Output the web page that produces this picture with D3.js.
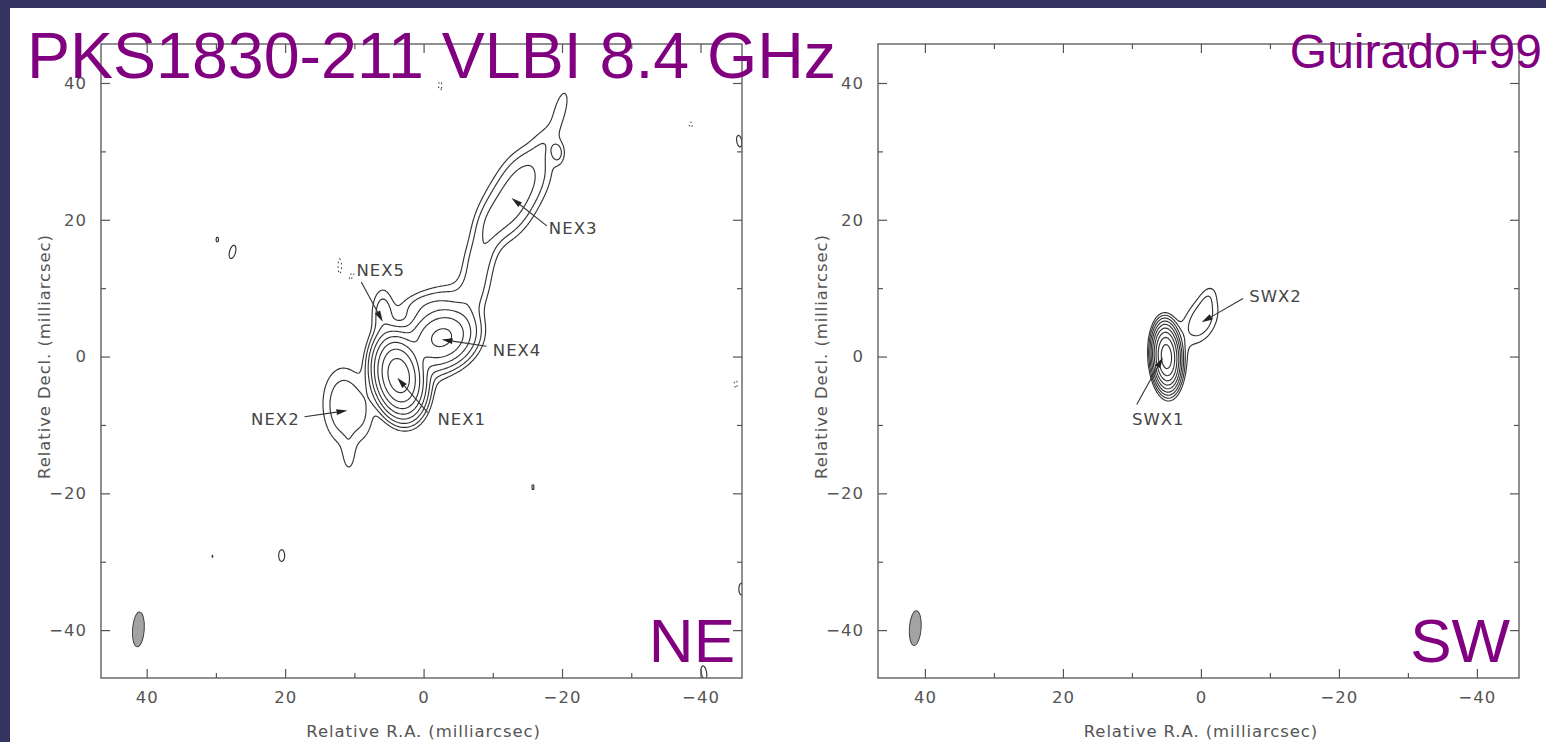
<!DOCTYPE html>
<html>
<head>
<meta charset="utf-8">
<script src="https://cdn.jsdelivr.net/npm/d3@7"></script>
<style>
  html, body { margin: 0; padding: 0; background: #ffffff; }
  svg { display: block; }
</style>
</head>
<body>
<svg id="chart" width="1546" height="742"></svg>
<script>
// Contour levels, in multiples of the lowest contour
const contourLevels = [1, 2, 4, 8, 16, 32, 64, 128, 256];
const negativeLevels = [1];

// Axis ticks (milliarcsec)
const majorTicks = [-40, -20, 0, 20, 40];
const minorTicks = [-30, -10, 10, 30];

// Brightness components of the NE image:
// [RA offset (mas), Dec offset (mas), peak (lowest contours), sigma major, sigma minor, PA (deg)]
const neComponents = [
  [3.6, -2.8, 210, 2.5, 1.5, 10],     // NEX1
  [-2.7, 2.8, 36, 2.4, 2.0, -60],     // NEX4
  [0.5, 0.5, 4, 4.0, 2.5, -40],       // diffuse emission between NEX1 and NEX4
  [-2.5, 8.0, 2.0, 3.0, 1.6, -70],    // diffuse emission north of NEX4
  [0.8, 7.5, 1.3, 2.2, 1.2, -75],     // diffuse emission east of the jet base
  [5.9, 6.3, 3.0, 2.3, 1.0, 0],       // NEX5
  [11.4, -7.3, 3.6, 3.5, 1.95, 3],    // NEX2
  [8.6, -8.5, 0.9, 2.5, 1.1, 0],      // emission joining NEX2 and NEX1
  [10.8, -14.5, 1.2, 2.0, 0.7, 0],    // NEX2 southern tail
  [-7.4, 10.0, 2.6, 3.5, 1.35, -15],  // jet bridge
  [-8.3, 15.5, 2.6, 3.0, 1.35, -20],  // jet bridge
  [-9.7, 19.5, 1.6, 2.0, 1.3, -25],   // jet bridge
  [-12.0, 21.5, 5.0, 3.0, 2.0, -30],  // NEX3
  [-14.5, 26.0, 4.5, 3.0, 2.0, -30],  // NEX3
  [-17.5, 31.5, 1.3, 2.2, 1.2, -30],  // outer jet
  [-19.4, 29.8, 2.3, 1.1, 0.65, 0],   // outer jet knot
  [-19.8, 36.3, 1.5, 2.5, 0.8, -15],  // jet tip
  [29.8, 17.1, 1.12, 0.8, 0.4, 0],
  [27.6, 15.3, 1.3, 1.4, 0.6, -15],
  [30.5, -29.2, 1.05, 0.6, 0.3, 0],
  [20.5, -29.1, 1.3, 1.2, 0.6, 0],
  [-15.8, -19.1, 1.1, 1.0, 0.35, 0],
  [-45.6, 31.5, 1.3, 1.2, 0.5, 10],
  [-45.9, -34.0, 1.3, 1.2, 0.5, 0],
  [-40.5, -46.2, 1.35, 1.3, 0.5, 10],
  [-2.4, 39.6, -1.3, 0.9, 0.35, 0],
  [12.1, 13.2, -1.3, 1.5, 0.35, 0],
  [10.4, 11.8, -1.25, 0.8, 0.35, -30],
  [-38.6, 33.9, -1.25, 0.6, 0.35, 0],
  [-45.1, -4.0, -1.25, 0.8, 0.35, 0]
];

// Brightness components of the SW image
const swComponents = [
  [5.0, 0.0, 400, 1.85, 0.78, 3],     // SWX1
  [3.9, 0.0, 2.5, 2.8, 1.2, -5],      // SWX1 western wing
  [0.0, 5.3, 3.5, 2.2, 1.35, -25],    // SWX2
  [-1.0, 8.6, 1.2, 1.4, 0.8, -20]     // SWX2 extension
];

// Restoring beam: FWHM major/minor (mas), PA (deg), drawn at [RA, Dec]
const neBeam = { major: 5.1, minor: 1.7, pa: 4, at: [41.2, -39.9] };
const swBeam = { major: 5.1, minor: 1.7, pa: 4, at: [41.4, -39.7] };

// Component labels: text position, arrow start, arrow tip (mas)
const neLabels = [
  { name: "NEX1", text: [-2.0, -9.2], from: [-0.6, -8.2], to: [3.8, -3.1], anchor: "start" },
  { name: "NEX2", text: [17.9, -9.1], from: [17.2, -8.8], to: [11.0, -7.9], anchor: "end" },
  { name: "NEX3", text: [-18.1, 18.8], from: [-17.8, 19.1], to: [-12.7, 23.2], anchor: "start" },
  { name: "NEX4", text: [-10.0, 0.9], from: [-9.1, 1.5], to: [-2.6, 2.5], anchor: "start" },
  { name: "NEX5", text: [9.7, 12.7], from: [9.0, 10.9], to: [5.9, 5.1], anchor: "start" }
];
const swLabels = [
  { name: "SWX1", text: [10.0, -9.2], from: [9.3, -7.0], to: [5.5, -0.1], anchor: "start" },
  { name: "SWX2", text: [-7.0, 8.8], from: [-6.1, 8.5], to: [-0.1, 5.0], anchor: "start" }
];

const titleText = "PKS1830-211 VLBI 8.4 GHz";
const refText = "Guirado+99";
const xTitle = "Relative R.A. (milliarcsec)";
const yTitle = "Relative Decl. (milliarcsec)";

const svg = d3.select("#chart");
const W = 1546, H = 742;
const tickFont = "'DejaVu Sans', 'Liberation Sans', sans-serif";
const axisGray = "#555";
const purple = "#800080";

// slide background frame
svg.append("rect").attr("x", 0).attr("y", 0).attr("width", W).attr("height", H).attr("fill", "#343362");
svg.append("rect").attr("x", 10).attr("y", 8).attr("width", W - 10).attr("height", H - 8).attr("fill", "#ffffff");

function brightnessGrid(components, ra0, ra1, dec0, dec1, step) {
  const nx = Math.ceil((ra0 - ra1) / step);
  const ny = Math.ceil((dec1 - dec0) / step);
  const values = new Float64Array(nx * ny);
  for (const [ra, dec, peak, smaj, smin, pa] of components) {
    const t = pa * Math.PI / 180, s = Math.sin(t), c = Math.cos(t);
    const r = 5 * smaj;
    const i0 = Math.max(0, Math.floor((ra0 - (ra + r)) / step));
    const i1 = Math.min(nx - 1, Math.ceil((ra0 - (ra - r)) / step));
    const j0 = Math.max(0, Math.floor((dec1 - (dec + r)) / step));
    const j1 = Math.min(ny - 1, Math.ceil((dec1 - (dec - r)) / step));
    for (let j = j0; j <= j1; j++) {
      const dy = dec1 - (j + 0.5) * step - dec;
      for (let i = i0; i <= i1; i++) {
        const dx = ra0 - (i + 0.5) * step - ra;
        const u = dx * s + dy * c, v = dx * c - dy * s;
        values[j * nx + i] += peak * Math.exp(-0.5 * (u * u / (smaj * smaj) + v * v / (smin * smin)));
      }
    }
  }
  return { values, nx, ny, ra0, dec1, step };
}

function drawPanel(cfg) {
  const x = d3.scaleLinear().domain(cfg.raDomain).range([cfg.left, cfg.right]);
  const y = d3.scaleLinear().domain(cfg.decDomain).range([cfg.bottom, cfg.top]);
  const g = svg.append("g");

  const clipId = "clip-" + cfg.id;
  svg.append("defs").append("clipPath").attr("id", clipId)
    .append("rect").attr("x", cfg.left).attr("y", cfg.top)
    .attr("width", cfg.right - cfg.left).attr("height", cfg.bottom - cfg.top);

  // brightness grid, slightly larger than the frame
  const pad = 3, step = 0.2;
  const grid = brightnessGrid(cfg.components,
    cfg.raDomain[0] + pad, cfg.raDomain[1] - pad,
    cfg.decDomain[0] - pad, cfg.decDomain[1] + pad, step);

  const toScreen = d3.geoTransform({
    point(gx, gy) {
      this.stream.point(x(grid.ra0 - gx * grid.step), y(grid.dec1 - gy * grid.step));
    }
  });
  const path = d3.geoPath(toScreen);

  const cg = g.append("g").attr("clip-path", `url(#${clipId})`);
  const pos = d3.contours().size([grid.nx, grid.ny]).thresholds(contourLevels)(grid.values);
  cg.selectAll("path.pos").data(pos).join("path")
    .attr("class", "pos")
    .attr("d", path)
    .attr("fill", "none")
    .attr("stroke", "#333")
    .attr("stroke-width", 1.15)
    .attr("stroke-linejoin", "round");

  const neg = d3.contours().size([grid.nx, grid.ny]).thresholds(negativeLevels)(grid.values.map(v => -v));
  cg.selectAll("path.neg").data(neg).join("path")
    .attr("class", "neg")
    .attr("d", path)
    .attr("fill", "none")
    .attr("stroke", "#444")
    .attr("stroke-width", 1.1)
    .attr("stroke-dasharray", "1.5,3");

  // restoring beam
  const b = cfg.beam;
  const kx = Math.abs(x(1) - x(0)), ky = Math.abs(y(1) - y(0));
  g.append("ellipse")
    .attr("cx", x(b.at[0])).attr("cy", y(b.at[1]))
    .attr("rx", b.minor / 2 * kx).attr("ry", b.major / 2 * ky)
    .attr("transform", `rotate(${b.pa},${x(b.at[0])},${y(b.at[1])})`)
    .attr("fill", "#a3a3a3").attr("stroke", "#444").attr("stroke-width", 1);

  // labels and arrows
  const lg = g.append("g");
  for (const L of cfg.labels) {
    const x1 = x(L.from[0]), y1 = y(L.from[1]), x2 = x(L.to[0]), y2 = y(L.to[1]);
    const ang = Math.atan2(y2 - y1, x2 - x1);
    const hl = 11, hw = 3;
    const bx = x2 - hl * Math.cos(ang), by = y2 - hl * Math.sin(ang);
    lg.append("line").attr("x1", x1).attr("y1", y1).attr("x2", bx).attr("y2", by)
      .attr("stroke", "#333").attr("stroke-width", 1.1);
    lg.append("path")
      .attr("d", `M${x2},${y2}L${bx - hw * Math.sin(ang)},${by + hw * Math.cos(ang)}L${bx + hw * Math.sin(ang)},${by - hw * Math.cos(ang)}Z`)
      .attr("fill", "#222");
    lg.append("text")
      .attr("x", x(L.text[0])).attr("y", y(L.text[1]))
      .attr("dy", "0.36em")
      .attr("text-anchor", L.anchor)
      .attr("font-family", tickFont).attr("font-size", 16.5).attr("letter-spacing", 1)
      .attr("fill", "#444")
      .text(L.name);
  }

  // axes: major ticks with labels, minor ticks, ticks on all sides pointing inward
  const styleAxis = sel => {
    sel.select(".domain").remove();
    sel.selectAll("line").attr("stroke", axisGray).attr("stroke-width", 1.2);
    sel.selectAll("text").attr("fill", axisGray).attr("font-family", tickFont)
      .attr("font-size", 16.5).attr("letter-spacing", 1);
  };
  g.append("g").attr("transform", `translate(0,${cfg.bottom})`)
    .call(d3.axisBottom(x).tickValues(majorTicks).tickSize(-9).tickPadding(13)).call(styleAxis);
  g.append("g").attr("transform", `translate(0,${cfg.bottom})`)
    .call(d3.axisBottom(x).tickValues(minorTicks).tickSize(-5).tickFormat("")).call(styleAxis);
  g.append("g").attr("transform", `translate(0,${cfg.top})`)
    .call(d3.axisTop(x).tickValues(majorTicks).tickSize(-9).tickFormat("")).call(styleAxis);
  g.append("g").attr("transform", `translate(0,${cfg.top})`)
    .call(d3.axisTop(x).tickValues(minorTicks).tickSize(-5).tickFormat("")).call(styleAxis);
  g.append("g").attr("transform", `translate(${cfg.left},0)`)
    .call(d3.axisLeft(y).tickValues(majorTicks).tickSize(-9).tickPadding(14)).call(styleAxis);
  g.append("g").attr("transform", `translate(${cfg.left},0)`)
    .call(d3.axisLeft(y).tickValues(minorTicks).tickSize(-5).tickFormat("")).call(styleAxis);
  g.append("g").attr("transform", `translate(${cfg.right},0)`)
    .call(d3.axisRight(y).tickValues(majorTicks).tickSize(-9).tickFormat("")).call(styleAxis);
  g.append("g").attr("transform", `translate(${cfg.right},0)`)
    .call(d3.axisRight(y).tickValues(minorTicks).tickSize(-5).tickFormat("")).call(styleAxis);

  g.append("rect")
    .attr("x", cfg.left).attr("y", cfg.top)
    .attr("width", cfg.right - cfg.left).attr("height", cfg.bottom - cfg.top)
    .attr("fill", "none").attr("stroke", axisGray).attr("stroke-width", 1.3);

  g.append("text")
    .attr("x", x(0)).attr("y", 737)
    .attr("text-anchor", "middle")
    .attr("font-family", tickFont).attr("font-size", 16.5).attr("letter-spacing", 0.9)
    .attr("fill", axisGray)
    .text(xTitle);
  g.append("text")
    .attr("transform", `translate(${cfg.left - 57},${y(0)}) rotate(-90)`)
    .attr("text-anchor", "middle")
    .attr("dy", "0.36em")
    .attr("font-family", tickFont).attr("font-size", 16.5).attr("letter-spacing", 0.9)
    .attr("fill", axisGray)
    .text(yTitle);

  g.append("text")
    .attr("x", cfg.right - cfg.tagInset).attr("y", 662)
    .attr("text-anchor", "end")
    .attr("font-family", "'Liberation Sans', Arial, sans-serif").attr("font-size", 62)
    .attr("fill", purple)
    .text(cfg.tag);
}

drawPanel({
  id: "ne", left: 101, right: 742, top: 44, bottom: 678,
  raDomain: [46.6, -46.0], decDomain: [-47.0, 45.7],
  components: neComponents, beam: neBeam, labels: neLabels, tag: "NE", tagInset: 7
});
drawPanel({
  id: "sw", left: 878, right: 1519, top: 44, bottom: 678,
  raDomain: [46.8, -46.1], decDomain: [-47.0, 45.7],
  components: swComponents, beam: swBeam, labels: swLabels, tag: "SW", tagInset: 9
});

svg.append("text")
  .attr("x", 27).attr("y", 78)
  .attr("font-family", "'Liberation Sans', Arial, sans-serif").attr("font-size", 64.5)
  .attr("fill", purple)
  .text(titleText);
svg.append("text")
  .attr("x", 1542).attr("y", 68)
  .attr("text-anchor", "end")
  .attr("font-family", "'Liberation Sans', Arial, sans-serif").attr("font-size", 48)
  .attr("fill", purple)
  .text(refText);
</script>
</body>
</html>
